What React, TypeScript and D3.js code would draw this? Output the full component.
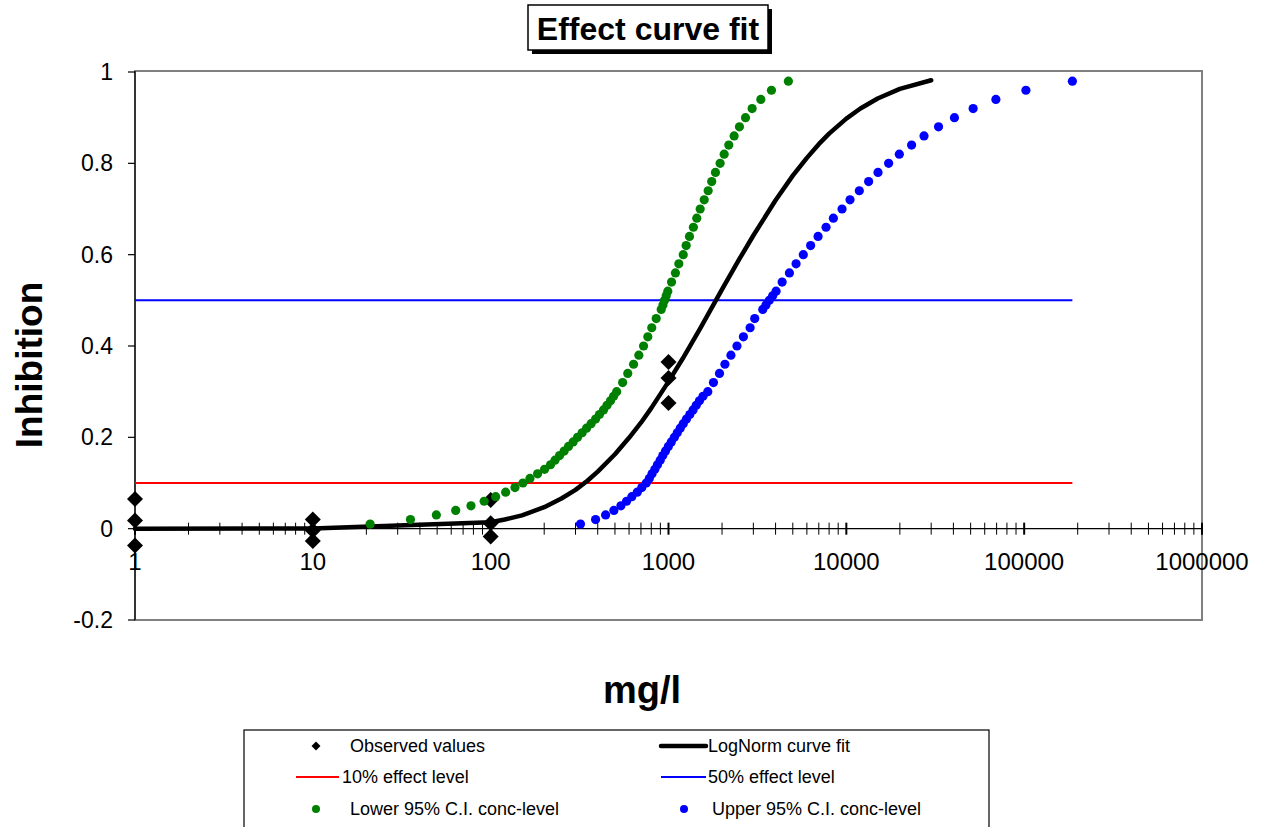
import React from 'react';
import * as d3 from 'd3';

// observed inhibition per test concentration (mg/l)
const observedConc = [1, 1, 1, 10, 10, 10, 100, 100, 100, 1000, 1000, 1000];
const observedInhib = [0.065, 0.018, -0.037, 0.02, -0.004, -0.027, 0.063, 0.012, -0.017, 0.365, 0.33, 0.275];

// LogNorm fitted curve
const fitConc = [1, 10, 100, 120, 150, 200, 250, 300, 350, 400, 500, 600, 700, 800, 1000, 1200, 1500, 2000, 2500, 3000, 4000, 5000, 6000, 7000, 8000, 10000, 12000, 15000, 20000, 30000];
const fitInhib = [0, 0.0005, 0.014, 0.02, 0.029, 0.047, 0.066, 0.085, 0.105, 0.125, 0.163, 0.199, 0.232, 0.264, 0.322, 0.372, 0.437, 0.524, 0.59, 0.642, 0.719, 0.773, 0.812, 0.842, 0.865, 0.898, 0.92, 0.942, 0.963, 0.982];

// effect levels for the 95% confidence limits
const effectLevels = [
  0.01, 0.02, 0.03, 0.04, 0.05, 0.06, 0.07, 0.08, 0.09, 0.1,
  0.11, 0.12, 0.13, 0.14, 0.15, 0.16, 0.17, 0.18, 0.19, 0.2,
  0.21, 0.22, 0.23, 0.24, 0.25, 0.26, 0.27, 0.28, 0.29, 0.3,
  0.32, 0.34, 0.36, 0.38, 0.4, 0.42, 0.44, 0.46,
  0.48, 0.49, 0.5, 0.51, 0.52,
  0.54, 0.56, 0.58, 0.6, 0.62, 0.64, 0.66, 0.68, 0.7, 0.72, 0.74, 0.76,
  0.78, 0.8, 0.82, 0.84, 0.86, 0.88, 0.9, 0.92, 0.94, 0.96, 0.98,
];
const lowerConc = [
  21, 35.4, 49.5, 63.6, 77.5, 91.9, 106.7, 121.4, 137, 151.8,
  166.3, 183.6, 201, 217, 230, 244, 259, 274, 291, 308,
  327, 346, 367, 389, 409, 431, 451, 472, 491, 511,
  552, 590, 636, 681, 724, 765, 805, 853,
  910, 931, 950, 971, 991,
  1040, 1094, 1143, 1210, 1257, 1312, 1380, 1442, 1507, 1588, 1671, 1750,
  1837, 1951, 2056, 2183, 2339, 2506, 2710, 2953, 3304, 3793, 4721,
];
const upperConc = [
  320, 389, 443, 493, 540, 581, 622, 667, 708, 750,
  780, 808, 838, 867, 898, 929, 962, 998, 1037, 1079,
  1120, 1164, 1211, 1262, 1318, 1374, 1432, 1493, 1563, 1663,
  1790, 1935, 2076, 2244, 2426, 2638, 2877, 3054,
  3389, 3532, 3690, 3853, 4027,
  4355, 4786, 5216, 5728, 6297, 6934, 7690, 8455, 9460, 10490, 11830, 13350,
  15070, 17290, 19860, 23280, 27340, 33000, 40550, 51660, 69340, 102300, 186700,
];

const effect10 = 0.1;
const effect50 = 0.5;
const xTickLabels = [1, 10, 100, 1000, 10000, 100000, 1000000];
const yTickLabels = [-0.2, 0, 0.2, 0.4, 0.6, 0.8, 1];

const FONT = '"Liberation Sans", Arial, sans-serif';
const W = 1268;
const H = 827;
const plot = { left: 135, right: 1202, top: 72, bottom: 620 };

export default function App() {
  const x = d3.scaleLog().domain([1, 1000000]).range([plot.left, plot.right]);
  const y = d3.scaleLinear().domain([-0.2, 1]).range([plot.bottom, plot.top]);

  const fitData = fitConc.map((c, i) => [c, fitInhib[i]] as [number, number]);
  const line = d3.line<[number, number]>().x(d => x(d[0])).y(d => y(d[1]));
  const refEnd = d3.max(upperConc) as number;

  const diamond = d3.symbol().type(d3.symbolSquare).size(128)();
  const diamondSmall = d3.symbol().type(d3.symbolSquare).size(40)();

  const ticks = x.ticks();
  const decades = new Set(xTickLabels);
  const y0 = y(0);

  const legendRows = [746, 777, 809];
  const col1 = { sym: 316, x1: 296, x2: 339, lineText: 342, markText: 350 };
  const col2 = { sym: 684, x1: 661, x2: 706, lineText: 708, markText: 712 };

  return (
    <svg width={W} height={H} style={{ position: 'absolute', left: 0, top: 0, background: '#fff' }} fontFamily={FONT}>
      {/* title box with shadow */}
      <rect x={532} y={9} width={240} height={45} fill="#000" />
      <rect x={528} y={5} width={240} height={45} fill="#fff" stroke="#000" strokeWidth={1.5} />
      <text x={648} y={40} textAnchor="middle" fontWeight="bold" fontSize={32}>Effect curve fit</text>

      {/* plot area border */}
      <rect x={plot.left} y={plot.top - 1} width={plot.right - plot.left} height={plot.bottom - plot.top + 1} fill="none" stroke="#808080" strokeWidth={2} />

      {/* y axis */}
      <line x1={plot.left} x2={plot.left} y1={plot.top - 1} y2={plot.bottom} stroke="#000" strokeWidth={1.2} />
      {yTickLabels.map(v => (
        <g key={v}>
          <line x1={plot.left - 7} x2={plot.left} y1={y(v)} y2={y(v)} stroke="#000" strokeWidth={1.2} />
          <text x={113} y={y(v) + 8} textAnchor="end" fontSize={23}>{v}</text>
        </g>
      ))}

      {/* x axis at y = 0 */}
      <line x1={plot.left} x2={plot.right} y1={y0} y2={y0} stroke="#000" strokeWidth={1.2} />
      {ticks.map((t, i) => (
        <line key={i} x1={x(t)} x2={x(t)} y1={y0 - 6} y2={y0 + 6} stroke="#000" strokeWidth={decades.has(t) ? 2 : 1} />
      ))}
      {xTickLabels.map(t => (
        <text key={t} x={x(t)} y={570} textAnchor="middle" fontSize={24}>{t}</text>
      ))}

      {/* effect level lines */}
      <line x1={x(1)} x2={x(refEnd)} y1={y(effect10)} y2={y(effect10)} stroke="#ff0000" strokeWidth={2} />
      <line x1={x(1)} x2={x(refEnd)} y1={y(effect50)} y2={y(effect50)} stroke="#0000ff" strokeWidth={2} />

      {/* observed values */}
      {observedConc.map((c, i) => (
        <path key={i} d={diamond} transform={`translate(${x(c)},${y(observedInhib[i])}) rotate(45)`} fill="#000" />
      ))}

      {/* fitted curve */}
      <path d={line(fitData) || ''} fill="none" stroke="#000" strokeWidth={4.5} strokeLinejoin="round" strokeLinecap="round" />

      {/* confidence limits */}
      {effectLevels.map((e, i) => (
        <circle key={'l' + i} cx={x(lowerConc[i])} cy={y(e)} r={4.6} fill="#008000" />
      ))}
      {effectLevels.map((e, i) => (
        <circle key={'u' + i} cx={x(upperConc[i])} cy={y(e)} r={4.6} fill="#0000ff" />
      ))}

      {/* axis titles */}
      <text transform={`translate(42,365) rotate(-90)`} textAnchor="middle" fontWeight="bold" fontSize={37}>Inhibition</text>
      <text x={642} y={703} textAnchor="middle" fontWeight="bold" fontSize={38}>mg/l</text>

      {/* legend */}
      <rect x={244} y={730} width={745} height={130} fill="#fff" stroke="#000" strokeWidth={1.2} />
      <g fontSize={18}>
        <path d={diamondSmall} transform={`translate(${col1.sym},${legendRows[0]}) rotate(45)`} fill="#000" />
        <text x={col1.markText} y={legendRows[0] + 6}>Observed values</text>
        <line x1={col2.x1} x2={col2.x2} y1={legendRows[0]} y2={legendRows[0]} stroke="#000" strokeWidth={4.5} strokeLinecap="round" />
        <text x={col2.lineText} y={legendRows[0] + 6}>LogNorm curve fit</text>

        <line x1={col1.x1} x2={col1.x2} y1={legendRows[1]} y2={legendRows[1]} stroke="#ff0000" strokeWidth={2} />
        <text x={col1.lineText} y={legendRows[1] + 6}>10% effect level</text>
        <line x1={col2.x1} x2={col2.x2} y1={legendRows[1]} y2={legendRows[1]} stroke="#0000ff" strokeWidth={2} />
        <text x={col2.lineText} y={legendRows[1] + 6}>50% effect level</text>

        <circle cx={col1.sym} cy={legendRows[2]} r={4} fill="#008000" />
        <text x={col1.markText} y={legendRows[2] + 6}>Lower 95% C.I. conc-level</text>
        <circle cx={col2.sym} cy={legendRows[2]} r={4} fill="#0000ff" />
        <text x={col2.markText} y={legendRows[2] + 6}>Upper 95% C.I. conc-level</text>
      </g>
    </svg>
  );
}
